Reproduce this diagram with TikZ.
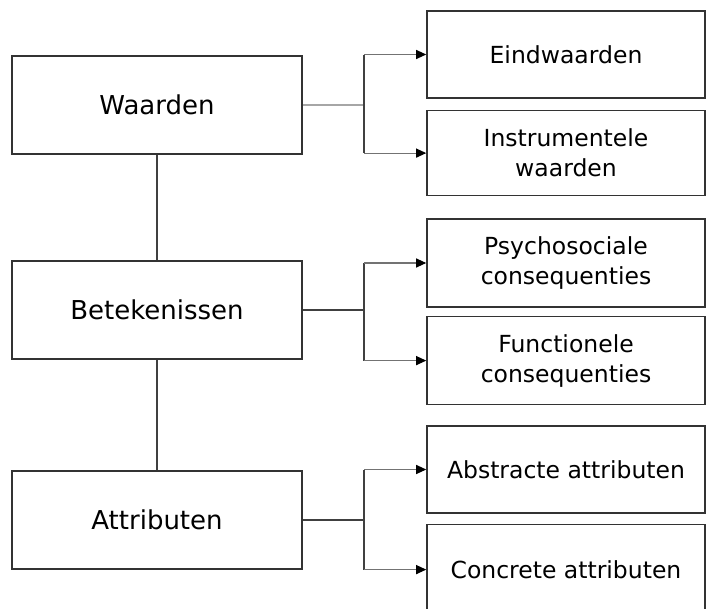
\documentclass[tikz,border=0pt]{standalone}
\usepackage{fontspec}
\setmainfont{DejaVu Sans}
\usepackage{tikz}
\usetikzlibrary{positioning}
\usetikzlibrary{arrows.meta}

\tikzset{
  level/.style={draw=black!80, line width=1.6pt, minimum width=290pt, minimum height=98pt,
    font=\fontsize{26}{31}\selectfont, inner sep=0pt},
  sub/.style={draw=black!80, line width=1.6pt, minimum width=278pt, minimum height=87pt,
    font=\fontsize{23.5}{30}\selectfont, align=center, inner sep=0pt},
  link/.style={draw=black!75, line width=1.1pt},
  feed/.style={draw=black!55, line width=1.1pt, -{Triangle[length=10pt,width=9pt,color=black]}},
}

\begin{document}
\begin{tikzpicture}[x=1pt, y=-1pt]
    \useasboundingbox (0,0) rectangle (709,608);
    \node[level] (waarden) at (157,105) {Waarden} ; %
    \node[level] (betek) at (157,310) {Betekenissen} ; %
    \node[level] (attrib) at (157,520) {Attributen} ; %
    \node[sub] (eind) at (566,54.5) {Eindwaarden} ; %
    \node[sub, below=11pt of eind, minimum height=85pt] (instr) {Instrumentele\\waarden} ; %
    \node[sub, minimum height=88pt] (psych) at (566,263) {Psychosociale\\consequenties} ; %
    \node[sub, below=8pt of psych, minimum height=88pt] (funct) {Functionele\\consequenties} ; %
    \node[sub] (abstr) at (566,469.5) {Abstracte attributen} ; %
    \node[sub, below=10pt of abstr, minimum height=90pt] (concr) {Concrete attributen} ; %
    \coordinate (k1) at (364,105) ; %
    \coordinate (k2) at (364,310) ; %
    \coordinate (k3) at (364,520) ; %
    % verticale lijnen tussen de niveaus
    \draw[link] (waarden) -- (betek); \draw[link] (betek) -- (attrib);
    % waarden
    \draw[link, draw=black!35] (waarden.east) -- (k1);
    \draw[link] (k1 |- eind.west) -- (k1 |- instr.west);
    \draw[feed] (k1 |- eind.west) -- (eind.west); \draw[feed] (k1 |- instr.west) -- (instr.west);
    % betekenissen
    \draw[link] (betek.east) -- (k2);
    \draw[link] (k2 |- psych.west) -- (k2 |- funct.west);
    \draw[feed] (k2 |- psych.west) -- (psych.west); \draw[feed] (k2 |- funct.west) -- (funct.west);
    % attributen
    \draw[link] (attrib.east) -- (k3);
    \draw[link] (k3 |- abstr.west) -- (k3 |- concr.west);
    \draw[feed] (k3 |- abstr.west) -- (abstr.west); \draw[feed] (k3 |- concr.west) -- (concr.west);
\end{tikzpicture}
\end{document}
